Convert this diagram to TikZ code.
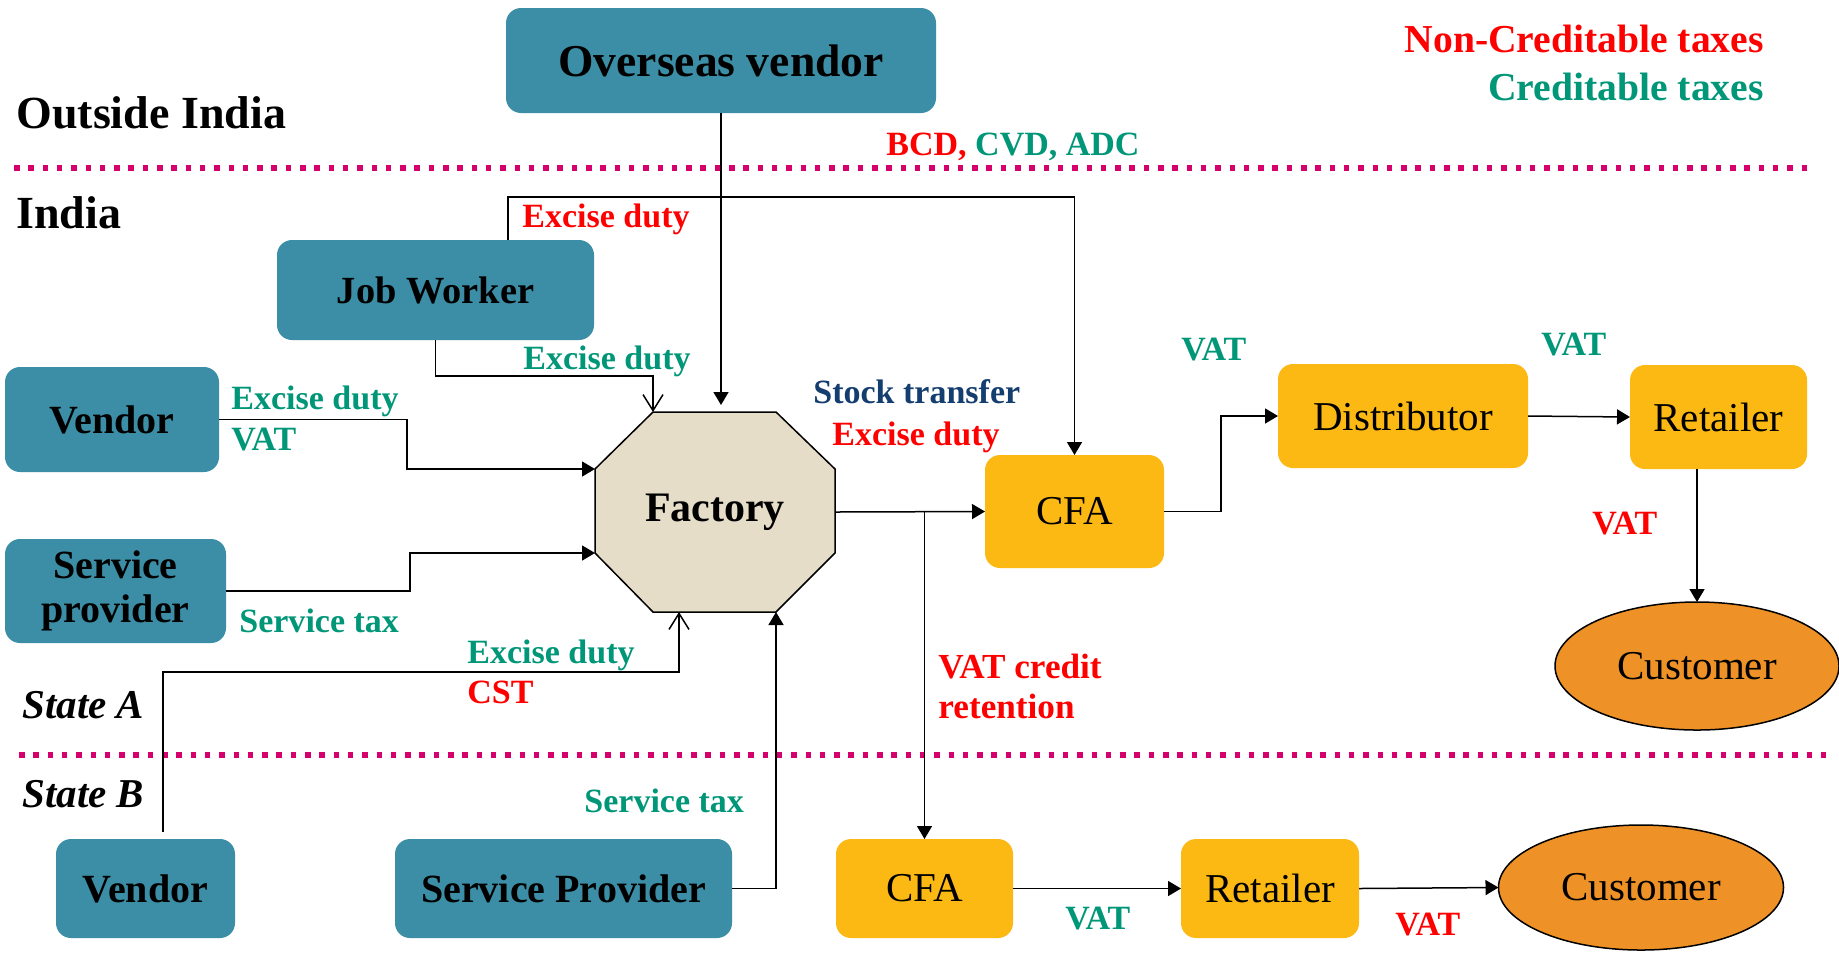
\documentclass[tikz,border=0pt]{standalone}
\usepackage{fontspec}
\setmainfont{Liberation Serif}
\usetikzlibrary{arrows.meta,calc,shapes.geometric}

\definecolor{tealbox}{RGB}{59,142,165}
\definecolor{goldbox}{RGB}{253,185,19}
\definecolor{custfill}{RGB}{238,146,40}
\definecolor{octfill}{RGB}{229,221,200}
\definecolor{taxred}{RGB}{255,0,0}
\definecolor{taxgreen}{RGB}{0,150,120}
\definecolor{taxblue}{RGB}{20,62,112}
\definecolor{zoneline}{RGB}{214,0,108}

\begin{document}
\begin{tikzpicture}[x=0.5pt,y=-0.5pt,
  partybox/.style={fill=tealbox, rounded corners=7.5pt, inner sep=0pt, outer sep=0pt,
    align=center, font=\fontsize{20}{22}\selectfont\bfseries},
  tradebox/.style={fill=goldbox, rounded corners=7.5pt, inner sep=0pt, outer sep=0pt,
    font=\fontsize{20.5}{23}\selectfont},
  buyer/.style={ellipse, draw=black, line width=0.75pt, fill=custfill, inner sep=0pt,
    outer sep=0pt, font=\fontsize{20.5}{23}\selectfont},
  link/.style={line width=0.75pt, -{Triangle[length=6.5pt,width=7.5pt]}},
  openlink/.style={line width=0.75pt, -{Straight Barb[length=8pt,width=10pt]}},
  tax/.style={inner sep=0pt, anchor=base west, font=\fontsize{17}{20}\selectfont\bfseries},
  zone/.style={line width=3pt, zoneline, dash pattern=on 2.75pt off 4.4pt},
  region/.style={inner sep=0pt, anchor=base west, font=\fontsize{23}{26}\selectfont\bfseries},
  statelbl/.style={inner sep=0pt, anchor=base west, font=\fontsize{20.5}{23}\selectfont\bfseries\itshape},
]
\useasboundingbox (0,0) rectangle (1839,955);
\fill[white] (0,0) rectangle (1839,955);

% zone separators
\draw[zone] (14,168) -- (1808,168);
\draw[zone] (19,755) -- (1827,755);

% region names
\node[region] (outside) at (16,128) {Outside India};
\node[region] (india) at (16,228) {India};
\node[statelbl] (statea) at (22,718) {State A};
\node[statelbl] (stateb) at (22,807) {State B};

% legend
\node[tax, anchor=base east, text=taxred, font=\fontsize{19.8}{23}\selectfont\bfseries] (lgnc) at (1764,52) {Non-Creditable taxes};
\node[tax, anchor=base east, text=taxgreen, font=\fontsize{19.8}{23}\selectfont\bfseries] (lgc) at (1764,100) {Creditable taxes};

% suppliers
\node[partybox, minimum width=215pt, minimum height=52.5pt, font=\fontsize{22.8}{25}\selectfont\bfseries] (ov) at (721,60.5) {Overseas vendor};
\node[partybox, minimum width=158.5pt, minimum height=50pt, font=\fontsize{19.2}{22}\selectfont\bfseries] (jw) at (435.5,290) {Job Worker};
\node[partybox, minimum width=107pt, minimum height=52.5pt] (va) at (112,419.5) {Vendor};
\node[partybox, minimum width=110.5pt, minimum height=52pt] (spa) at (115.5,591) {Service\\provider};
\node[partybox, minimum width=89.5pt, minimum height=49.5pt] (vb) at (145.5,888.5) {Vendor};
\node[partybox, minimum width=168.5pt, minimum height=49.5pt] (spb) at (563.5,888.5) {Service Provider};

% factory octagon
\coordinate (ftl) at (653,412);
\coordinate (ftr) at (776,412);
\coordinate (fr1) at (835,469);
\coordinate (fr2) at (835,553);
\coordinate (fbr) at (776,612);
\coordinate (fbl) at (653,612);
\coordinate (fl2) at (595,553);
\coordinate (fl1) at (595,469);
\filldraw[fill=octfill, draw=black, line width=0.75pt]
  (ftl) -- (ftr) -- (fr1) -- (fr2) -- (fbr) -- (fbl) -- (fl2) -- (fl1) -- cycle;
\node[inner sep=0pt, font=\fontsize{21}{24}\selectfont\bfseries] (fac) at (715,512) {Factory};
\coordinate (fout) at (835,512);
\coordinate (fbin) at (679,612);
\coordinate (ovin) at (721,405);

% distribution chain
\node[tradebox, minimum width=89.5pt, minimum height=56.5pt] (cfaa) at (1074.5,511.5) {CFA};
\node[tradebox, minimum width=125pt, minimum height=52pt] (dist) at (1403,416) {Distributor};
\node[tradebox, minimum width=88.5pt, minimum height=52pt] (reta) at (1718.5,417) {Retailer};
\node[buyer, minimum width=142pt, minimum height=64pt] (custa) at (1697,666) {Customer};
\node[tradebox, minimum width=88.5pt, minimum height=49.5pt] (cfab) at (924.5,888.5) {CFA};
\node[tradebox, minimum width=89pt, minimum height=49.5pt] (retb) at (1270,888.5) {Retailer};
\node[buyer, minimum width=142.5pt, minimum height=62.5pt] (custb) at (1641,887.5) {Customer};

% flows into the factory
\draw[link] (ov.south) -- (ovin);
\coordinate (jwup) at (508,240);
\coordinate (topbus) at (0,197);
\draw[link] (jwup) |- (topbus -| cfaa.north) -- (cfaa.north);
\draw[openlink] (jw.south) -- ++(0,36) -| (ftl);
\draw[link] (va.east) -- ++(188,0) |- (fl1);
\draw[link] (spa.east) -- ++(184,0) |- (fl2);
\coordinate (vbup) at (163,832);
\draw[openlink] (vbup) -- ++(0,-160) -| (fbin);
\draw[link] (spb.east) -| (fbr);

% flows out of the factory
\draw[link] (fout) -- (cfaa.west);
\draw[link] (cfab.north |- fout) -- (cfab.north);
\draw[link] (cfaa.east) -- ++(57,0) |- (dist.west);
\draw[link] (dist.east) -- (reta.west);
\draw[link] (custa.north |- reta.south) -- (custa.north);
\draw[link] (cfab.east) -- (retb.west);
\draw[link] (retb.east) -- (custb.west);

% tax labels
\node[tax] (bcd) at (886,155) {\textcolor{taxred}{BCD,} \textcolor{taxgreen}{CVD, ADC}};
\node[tax, text=taxred] (jwexc) at (522,227) {Excise duty};
\node[tax, text=taxgreen] (jwexg) at (523,369) {Excise duty};
\node[tax, text=taxgreen] (vaexc) at (231,409) {Excise duty};
\node[tax, text=taxgreen] (vavat) at (231,450) {VAT};
\node[tax, text=taxgreen] (spatax) at (239,632) {Service tax};
\node[tax, text=taxgreen] (vbexc) at (467,663) {Excise duty};
\node[tax, text=taxred] (vbcst) at (467,703) {CST};
\node[tax, text=taxgreen] (spbtax) at (584,812) {Service tax};
\node[tax, text=taxblue] (stock) at (813,403) {Stock transfer};
\node[tax, text=taxred] (stexc) at (832,445) {Excise duty};
\node[tax, text=taxred, font=\fontsize{17.6}{20}\selectfont\bfseries] (vcr1) at (938,678) {VAT credit};
\node[tax, text=taxred, font=\fontsize{17.6}{20}\selectfont\bfseries] (vcr2) at (938,718) {retention};
\node[tax, text=taxgreen] (vat1) at (1181,360) {VAT};
\node[tax, text=taxgreen] (vat2) at (1541,355) {VAT};
\node[tax, text=taxred] (vat3) at (1592,534) {VAT};
\node[tax, text=taxgreen] (vat4) at (1065,929) {VAT};
\node[tax, text=taxred] (vat5) at (1395,935) {VAT};
\end{tikzpicture}
\end{document}
